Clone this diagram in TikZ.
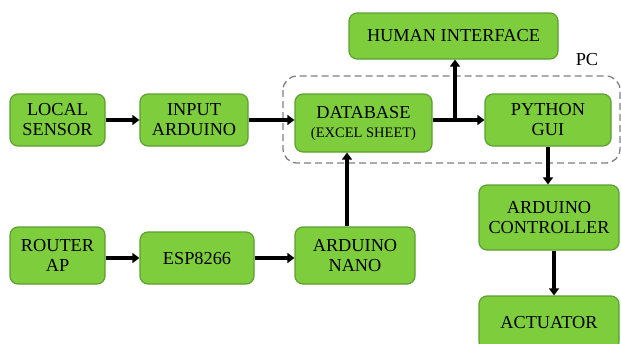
\documentclass[tikz,border=0pt]{standalone}
\usepackage{fontspec}
\setmainfont{Liberation Serif}
\usetikzlibrary{arrows.meta}
\definecolor{boxgreen}{RGB}{125,205,60}
\definecolor{boxedge}{RGB}{92,160,48}
\tikzset{
  block/.style={draw=boxedge, line width=1.2pt, fill=boxgreen, rounded corners=8pt,
    align=center, inner sep=0pt, font=\fontsize{18.3}{20}\selectfont},
  arr/.style={line width=3.6pt, -{Triangle[length=7pt,width=10pt]}},
}
\begin{document}
\begin{tikzpicture}[x=1pt, y=-1pt]
    \useasboundingbox (0,0) rectangle (621,343);
    \clip (0,0) rectangle (621,343);

    % PC group
    \draw[gray, line width=1.3pt, dash pattern=on 7pt off 4pt, rounded corners=14pt]
        (283,76) rectangle (620,163);
    \node[font=\fontsize{18.3}{20}\selectfont] (pc) at (587,60) {PC};

    % Top row
    \node[block, minimum width=95pt, minimum height=52pt] (lsensor) at (57.5,120) {LOCAL\\SENSOR};
    \node[block, minimum width=108pt, minimum height=52pt] (inard) at (194,120) {INPUT\\ARDUINO};
    \node[block, minimum width=137pt, minimum height=58pt] (db) at (363.5,123)
        {DATABASE\\[-1pt]{\fontsize{14.5}{16}\selectfont (EXCEL SHEET)}};
    \node[block, minimum width=209pt, minimum height=46pt] (human) at (453.5,36) {HUMAN INTERFACE};
    \node[block, minimum width=126pt, minimum height=52pt] (gui) at (548,120) {PYTHON\\GUI};

    % Right column
    \node[block, minimum width=140pt, minimum height=65pt] (ctrl) at (549,217.5) {ARDUINO\\CONTROLLER};
    \node[block, minimum width=140pt, minimum height=54pt] (act) at (549,323) {ACTUATOR};

    % Bottom row
    \node[block, minimum width=95pt, minimum height=57pt] (router) at (57.5,255.5) {ROUTER\\AP};
    \node[block, minimum width=114pt, minimum height=52pt] (esp) at (197,258) {ESP8266};
    \node[block, minimum width=120pt, minimum height=57pt] (nano) at (355,255.5) {ARDUINO\\NANO};

    % Connections
    \coordinate (split) at (455,120);
    \draw[arr] (lsensor.east) -- (inard.west);
    \draw[arr] (inard.east) -- (inard.east -| db.west);
    \draw[arr] (db.east |- gui.west) -- (gui.west);
    \draw[arr] (split) -- (split |- human.south);
    \draw[arr] (gui.south) -- (gui.south |- ctrl.north);
    \draw[arr] ([xshift=5pt]ctrl.south) -- ([xshift=5pt]ctrl.south |- act.north);
    \draw[arr] (router.east |- esp.west) -- (esp.west);
    \draw[arr] (esp.east) -- (esp.east -| nano.west);
    \draw[arr] ([xshift=-8pt]nano.north) -- ([xshift=-8pt]nano.north |- db.south);
\end{tikzpicture}
\end{document}
